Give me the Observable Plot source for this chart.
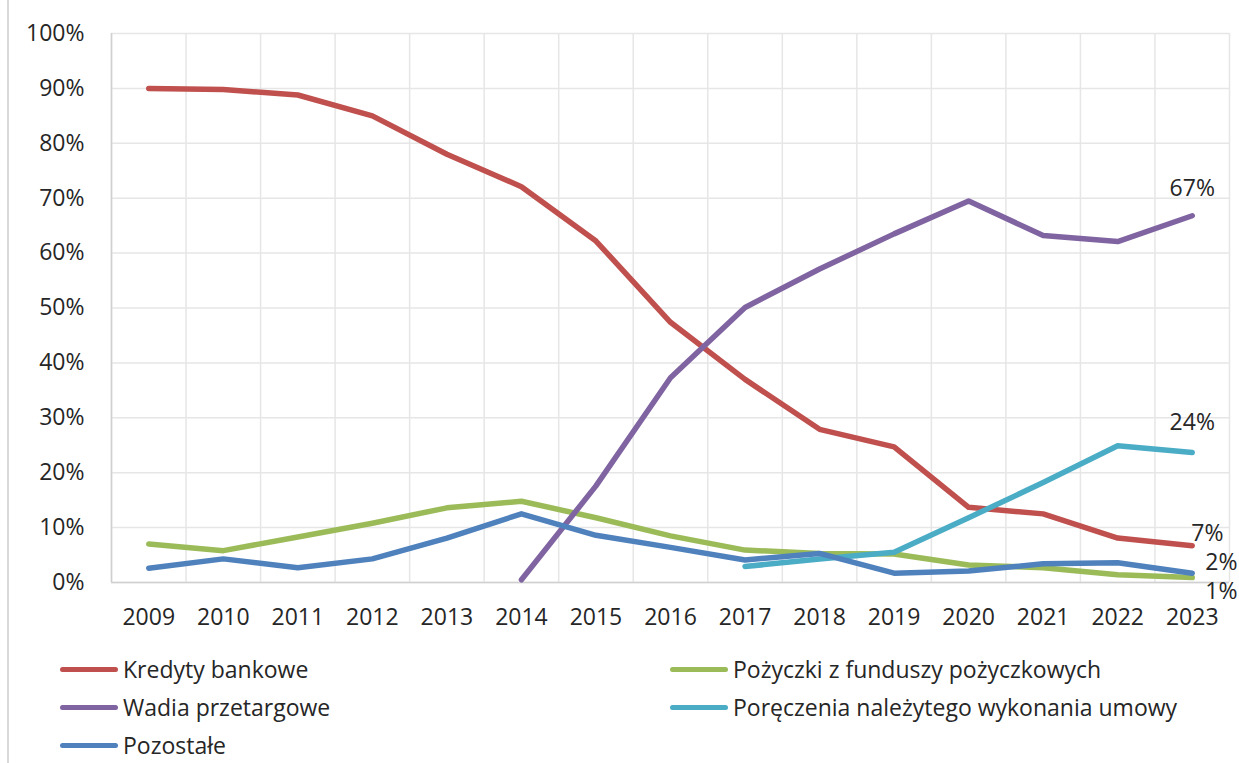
<!DOCTYPE html>
<html>
<head>
<meta charset="utf-8">
<script src="https://cdn.jsdelivr.net/npm/d3@7"></script>
<script src="https://cdn.jsdelivr.net/npm/@observablehq/plot@0.6"></script>
<style>
  html, body { margin: 0; padding: 0; background: #fff; }
  body { width: 1239px; height: 763px; position: relative; overflow: hidden; font-family: "Open Sans", Lato, sans-serif; color: #262626; }
  #frame { position: absolute; left: 7px; top: 0; width: 2px; height: 763px; background: #d9d9d9; }
  #legend { position: absolute; left: 0; top: 651px; width: 1239px; }
  .item { position: absolute; display: flex; align-items: center; height: 36px; line-height: 28px; font-size: 23px; white-space: nowrap; }
  .sw { width: 58px; height: 5px; border-radius: 3px; margin-right: 5px; }
</style>
</head>
<body>
<div id="frame"></div>
<div id="chart"></div>
<div id="legend"></div>
<script>
const years = [2009, 2010, 2011, 2012, 2013, 2014, 2015, 2016, 2017, 2018, 2019, 2020, 2021, 2022, 2023];
const seriesNames = ["Kredyty bankowe", "Pożyczki z funduszy pożyczkowych", "Wadia przetargowe", "Poręczenia należytego wykonania umowy", "Pozostałe"];
const seriesColors = ["#C0504D", "#9BBB59", "#8064A2", "#4BACC6", "#4F81BD"];
const kredyty    = [90.0, 89.8, 88.8, 85.0, 78.0, 72.1, 62.2, 47.4, 37.0, 27.9, 24.7, 13.7, 12.5, 8.1, 6.7];
const pozyczki   = [7.0, 5.8, 8.3, 10.8, 13.6, 14.8, 11.8, 8.5, 5.9, 5.3, 5.2, 3.2, 2.7, 1.4, 0.9];
const wadia      = [null, null, null, null, null, 0.5, 17.6, 37.3, 50.1, 57.1, 63.5, 69.5, 63.2, 62.1, 66.8];
const poreczenia = [null, null, null, null, null, null, null, null, 2.9, 4.3, 5.5, 11.8, 18.2, 24.9, 23.7];
const pozostale  = [2.6, 4.3, 2.7, 4.3, 8.1, 12.5, 8.6, 6.4, 4.1, 5.3, 1.7, 2.1, 3.4, 3.6, 1.7];
const yTicks = [0, 10, 20, 30, 40, 50, 60, 70, 80, 90, 100];
// end labels (last year)
const endLabels = ["67%", "24%", "7%", "2%", "1%"];

const seriesValues = [kredyty, pozyczki, wadia, poreczenia, pozostale];
const rows = [];
seriesNames.forEach((name, i) => {
  years.forEach((yr, j) => {
    const v = seriesValues[i][j];
    if (v != null) rows.push({series: name, year: yr, value: v});
  });
});
const lastYear = years[years.length - 1];
const lastOf = (arr) => arr[arr.length - 1];
const lab = (i, t) => [{year: lastYear, value: lastOf(seriesValues[i]), text: t}];
const gridX = years.map(y => y - 0.5).concat([lastYear + 0.5]);

const font = "'Open Sans', Lato, sans-serif";
const chart = Plot.plot({
  width: 1239,
  height: 650,
  marginLeft: 111,
  marginRight: 10,
  marginTop: 33,
  marginBottom: 68,
  style: {fontFamily: font, fontSize: "23px", color: "#262626", background: "white"},
  x: {type: "linear", domain: [years[0] - 0.5, lastYear + 0.5], label: null},
  y: {domain: [0, 100], label: null},
  color: {domain: seriesNames, range: seriesColors},
  marks: [
    Plot.ruleY(yTicks, {stroke: "#e6e6e6", strokeWidth: 1.5}),
    Plot.ruleX(gridX, {stroke: "#e6e6e6", strokeWidth: 1.5}),
    Plot.ruleX([years[0] - 0.5], {stroke: "#d0d0d0", strokeWidth: 1.5}),
    Plot.ruleY([0], {stroke: "#d0d0d0", strokeWidth: 1.5}),
    Plot.axisY({ticks: yTicks, tickSize: 0, tickPadding: 27, tickFormat: d => d + "%", fontSize: 23, fill: "#262626", label: null}),
    Plot.axisX({ticks: years, tickSize: 0, tickPadding: 26, tickFormat: d => String(d), fontSize: 23, fill: "#262626", label: null}),
    Plot.line(rows, {x: "year", y: "value", z: "series", stroke: "series", strokeWidth: 5.5, strokeLinejoin: "round", strokeLinecap: "round"}),
    Plot.text(lab(2, endLabels[0]), {x: "year", y: "value", text: "text", dy: -27, fontSize: 23, fill: "#262626"}),
    Plot.text(lab(3, endLabels[1]), {x: "year", y: "value", text: "text", dy: -30, fontSize: 23, fill: "#262626"}),
    Plot.text(lab(0, endLabels[2]), {x: "year", y: "value", text: "text", dx: -1, dy: -12, textAnchor: "start", fontSize: 23, fill: "#262626"}),
    Plot.text(lab(4, endLabels[3]), {x: "year", y: "value", text: "text", dx: 13, dy: -11, textAnchor: "start", fontSize: 23, fill: "#262626"}),
    Plot.text(lab(1, endLabels[4]), {x: "year", y: "value", text: "text", dx: 13, dy: 14, textAnchor: "start", fontSize: 23, fill: "#262626"})
  ]
});
document.getElementById("chart").appendChild(chart);

// legend: two columns, row-major like Excel
const legend = document.getElementById("legend");
const colX = [60, 670];
seriesNames.forEach((name, i) => {
  const it = document.createElement("div");
  it.className = "item";
  it.style.left = colX[i % 2] + "px";
  it.style.top = (Math.floor(i / 2) * 38) + "px";
  const sw = document.createElement("div");
  sw.className = "sw";
  sw.style.background = seriesColors[i];
  const tx = document.createElement("span");
  tx.textContent = name;
  it.appendChild(sw);
  it.appendChild(tx);
  legend.appendChild(it);
});
</script>
</body>
</html>
